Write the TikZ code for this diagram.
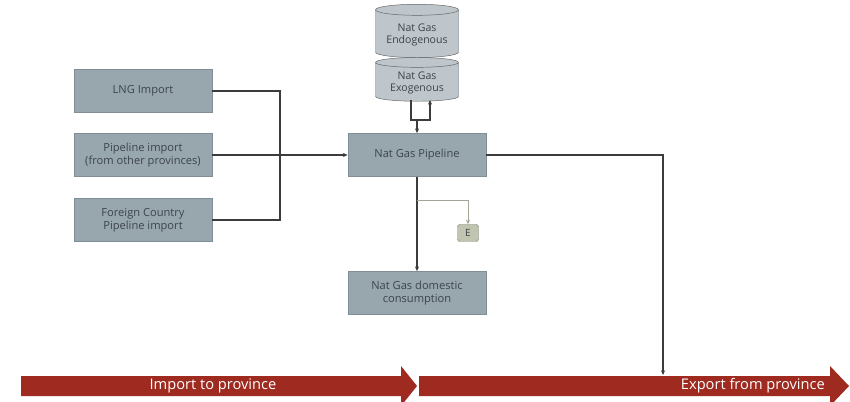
\documentclass[tikz,border=0pt]{standalone}
\usepackage{fontspec}
\setmainfont{Open Sans}
\usetikzlibrary{arrows.meta, shapes.geometric}
\definecolor{boxgray}{RGB}{152, 167, 174}
\definecolor{boxedge}{RGB}{128, 142, 150}
\definecolor{cylgray}{RGB}{190, 198, 203}
\definecolor{inkgray}{RGB}{60, 68, 74}
\definecolor{linegray}{RGB}{60, 60, 60}
\definecolor{palegray}{RGB}{165, 165, 150}
\definecolor{egreen}{RGB}{192, 197, 176}
\definecolor{darkred}{RGB}{158, 42, 32}

\begin{document}
\begin{tikzpicture}[x=0.03cm, y=-0.03cm,
  box/.style={rectangle, fill=boxgray, draw=boxedge, text=inkgray, align=center,
    minimum width=4.15cm, minimum height=1.3cm, font=\fontsize{9.5}{11.5}\selectfont},
  cyl/.style={cylinder, shape border rotate=90, aspect=0.16, fill=cylgray, draw=linegray!80,
    text=inkgray, align=center, minimum width=2.49cm, font=\fontsize{9}{11}\selectfont},
  flow/.style={draw=linegray, line width=1pt},
  pale/.style={draw=palegray, line width=0.8pt},
  tip/.style={-{Stealth[length=4pt, width=3.5pt]}},
  bandtext/.style={text=white, font=\fontsize{12.5}{14}\selectfont}]
  \useasboundingbox (0, 0) rectangle (850, 402);

  % import sources
  \node[box] (lng) at (143, 91) {LNG Import};
  \node[box] (pimp) at (143, 155) {Pipeline import\\(from other provinces)};
  \node[box] (frgn) at (143, 220) {Foreign Country\\Pipeline import};

  % storage
  \node[cyl, minimum height=1.6cm] (endo) at (417, 35) {Nat Gas\\Endogenous};
  \node[cyl, minimum height=1.2cm] (exo) at (417, 83) {Nat Gas\\Exogenous};

  % pipeline and consumers
  \node[box] (pipe) at (417, 155) {Nat Gas Pipeline};
  \node[box] (dom) at (417, 293) {Nat Gas domestic\\consumption};
  \node[rectangle, rounded corners=2pt, fill=egreen, draw=palegray!80!black, text=inkgray,
    minimum width=0.63cm, minimum height=0.51cm, inner sep=0pt,
    font=\fontsize{8.5}{9}\selectfont] (e) at (468, 233) {E};

  % bands
  \fill[darkred] (21, 376) -- (401, 376) -- (401, 366) -- (417, 386) -- (401, 406)
    -- (401, 396) -- (21, 396) -- cycle;
  \fill[darkred] (419, 376) -- (830, 376) -- (830, 366) -- (849, 386) -- (830, 406)
    -- (830, 396) -- (419, 396) -- cycle;
  \node[bandtext] (imptxt) at (213, 386) {Import to province};
  \node[bandtext, anchor=east] (exptxt) at (829, 386) {Export from province};

  \coordinate (join) at (280, 155);
  \coordinate (exoout) at (411, 100);
  \coordinate (exoin) at (430, 100);
  \coordinate (split) at (417, 120);
  \coordinate (ebranch) at (417, 200);
  \coordinate (expend) at (663, 375);

  \draw[flow] (lng.east) -| (join);
  \draw[flow] (frgn.east) -| (join);
  \draw[flow, tip] (pimp.east) -- (pipe.west);
  \draw[flow, tip] (exoout) |- (split) -| (exoin);
  \draw[flow, tip] (split) -- (pipe.north);
  \draw[flow, tip] (pipe.south) -- (dom.north);
  \draw[pale, tip] (ebranch) -| (e.north);
  \draw[flow, tip] (pipe.east) -| (expend);

\end{tikzpicture}
\end{document}
